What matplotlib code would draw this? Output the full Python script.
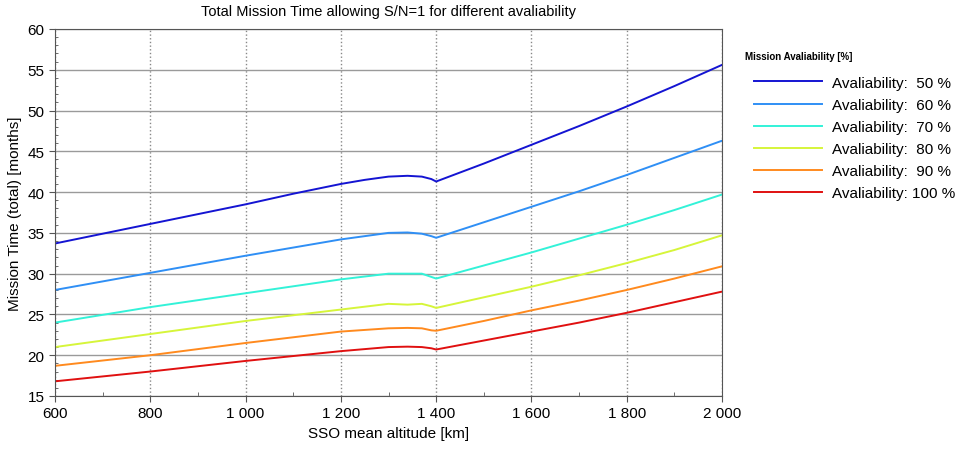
import numpy as np
import matplotlib.pyplot as plt
from matplotlib.ticker import MultipleLocator, FuncFormatter

plt.rcParams['font.family'] = ['Liberation Sans', 'DejaVu Sans']

# altitude samples [km]
altitude = [600, 700, 800, 900, 1000, 1100, 1200, 1250, 1300, 1340, 1370, 1390, 1400,
            1500, 1600, 1700, 1800, 1900, 2000]

# mission time [months] per availability
avail_50 = [33.7, 34.9, 36.1, 37.3, 38.5, 39.8, 41.0, 41.5, 41.9, 42.0, 41.9, 41.6, 41.3,
            43.5, 45.8, 48.1, 50.5, 53.0, 55.6]
avail_60 = [28.0, 29.05, 30.1, 31.15, 32.2, 33.2, 34.2, 34.6, 35.0, 35.05, 34.9, 34.6, 34.4,
            36.3, 38.2, 40.1, 42.1, 44.2, 46.3]
avail_70 = [24.0, 24.95, 25.9, 26.75, 27.6, 28.45, 29.3, 29.65, 30.0, 30.0, 30.0, 29.6, 29.4,
            31.0, 32.6, 34.3, 36.0, 37.8, 39.7]
avail_80 = [21.0, 21.8, 22.6, 23.4, 24.2, 24.9, 25.6, 25.95, 26.3, 26.2, 26.3, 26.0, 25.8,
            27.1, 28.4, 29.8, 31.3, 32.9, 34.7]
avail_90 = [18.7, 19.35, 20.0, 20.75, 21.5, 22.2, 22.9, 23.1, 23.3, 23.35, 23.3, 23.05, 23.0,
            24.2, 25.5, 26.7, 28.0, 29.4, 30.9]
avail_100 = [16.8, 17.4, 18.0, 18.65, 19.3, 19.9, 20.5, 20.75, 21.0, 21.05, 21.0, 20.85, 20.7,
             21.8, 22.9, 24.0, 25.2, 26.5, 27.8]

series = [avail_50, avail_60, avail_70, avail_80, avail_90, avail_100]
labels = ["Avaliability:  50 %", "Avaliability:  60 %", "Avaliability:  70 %",
          "Avaliability:  80 %", "Avaliability:  90 %", "Avaliability: 100 %"]
colors = ["#1414d2", "#2f8ff5", "#33f2d8", "#d6f53a", "#ff8a1e", "#e01010"]

fig = plt.figure(figsize=(9.56, 4.52), dpi=100)
ax = fig.add_axes([55 / 956, 1 - 397 / 452, (722 - 55) / 956, (397 - 30) / 452])

for vals, lab, col in zip(series, labels, colors):
    ax.plot(altitude, vals, color=col, lw=1.4, label=lab)

ax.set_xlim(600, 2000)
ax.set_ylim(15, 60)
ax.xaxis.set_major_locator(MultipleLocator(200))
ax.xaxis.set_minor_locator(MultipleLocator(100))
ax.yaxis.set_major_locator(MultipleLocator(5))
ax.yaxis.set_minor_locator(MultipleLocator(1))
ax.xaxis.set_major_formatter(FuncFormatter(lambda v, p: f"{int(v):,}".replace(",", " ")))

ax.grid(True, axis='x', which='major', color='#888888', ls=':', lw=1.0)
ax.grid(True, axis='y', which='major', color='#9a9a9a', ls='-', lw=1.0)
ax.tick_params(axis='both', which='major', labelsize=11, direction='out', length=4, color='#555555')
ax.tick_params(axis='x', which='minor', direction='in', length=3, color='#555555')
ax.tick_params(axis='y', which='minor', direction='in', length=2, color='#555555')
for s in ax.spines.values():
    s.set_color('#555555')

ax.set_title("Total Mission Time allowing S/N=1 for different avaliability", fontsize=10.5, pad=10)
ax.set_xlabel("SSO mean altitude [km]", fontsize=11)
ax.set_ylabel("Mission Time (total) [months]", fontsize=11)

fig.text(745 / 956, 1 - 57 / 452, "Mission Avaliability [%]", fontsize=7, weight='bold',
         ha='left', va='center')
leg = fig.legend(loc='upper left', bbox_to_anchor=(740 / 956, 1 - 63 / 452), frameon=False,
                 fontsize=11, handlelength=4.45, handletextpad=0.7, labelspacing=0.53)

fig.savefig("out.png", dpi=100)
